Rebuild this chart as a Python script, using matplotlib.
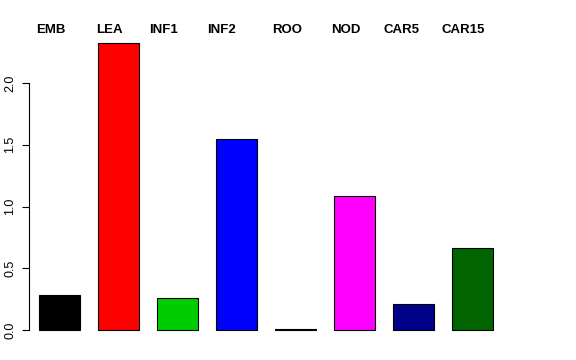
import matplotlib
matplotlib.use("Agg")
import matplotlib.pyplot as plt
import numpy as np

# 値
tissues = ["EMB", "LEA", "INF1", "INF2", "ROO", "NOD", "CAR5", "CAR15"]
values = [0.283, 2.32, 0.262, 1.547, 0.006, 1.085, 0.214, 0.664]
colors = ["black", "red", "#00CD00", "blue", "black", "magenta", "#00008B", "#006400"]
label_x = [-0.15, 0.85, 1.77, 2.75, 3.85, 4.85, 5.8, 6.85]
yticks = [0.0, 0.5, 1.0, 1.5, 2.0]

plt.rcParams['font.family'] = ['Liberation Sans', 'DejaVu Sans']

fig = plt.figure(figsize=(5.76, 3.6), dpi=100)
ax = fig.add_axes([29 / 576, 18 / 360, 531 / 576, 322 / 360])

x = np.arange(len(tissues))
ax.bar(x, values, width=0.695, color=colors, edgecolor="black", linewidth=0.8)

ax.set_xlim(-0.517, 8.483)
ax.set_ylim(-0.097, 2.51)

# R風の軸
for s in ["top", "right", "bottom"]:
    ax.spines[s].set_visible(False)
ax.spines["left"].set_bounds(0, 2.0)
ax.spines["left"].set_linewidth(0.8)
ax.set_xticks([])
ax.set_yticks(yticks)
ax.set_yticklabels([f"{v:.1f}" for v in yticks], rotation=90, va="center", fontsize=9)
ax.tick_params(axis="y", length=5, width=0.8, pad=4)

# 上部のラベル
for lx, name in zip(label_x, tissues):
    ax.text(lx, 2.43, name, ha="center", va="center", fontsize=9.5, fontweight="bold")

fig.savefig("out.png", dpi=100)
